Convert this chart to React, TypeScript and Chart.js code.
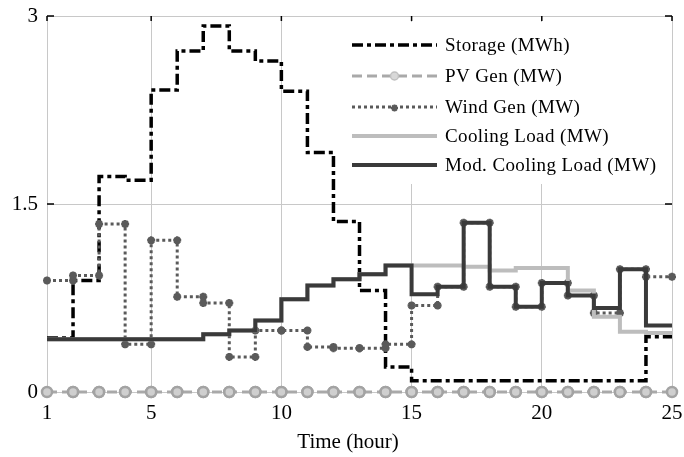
import React, { useEffect, useRef } from "react";
import { Chart, registerables } from "chart.js";

Chart.register(...registerables);

// ---------- data ----------
const hours = [1, 2, 3, 4, 5, 6, 7, 8, 9, 10, 11, 12, 13, 14, 15, 16, 17, 18, 19, 20, 21, 22, 23, 24];
const storageMWh = [0.43, 0.89, 1.72, 1.69, 2.41, 2.72, 2.92, 2.72, 2.64, 2.4, 1.91, 1.36, 0.81, 0.2, 0.09, 0.09, 0.09, 0.09, 0.09, 0.09, 0.09, 0.09, 0.09, 0.44];
const pvGenMW = [0, 0, 0, 0, 0, 0, 0, 0, 0, 0, 0, 0, 0, 0, 0, 0, 0, 0, 0, 0, 0, 0, 0, 0];
const windGenMW = [0.89, 0.93, 1.34, 0.38, 1.21, 0.76, 0.71, 0.28, 0.49, 0.49, 0.36, 0.35, 0.35, 0.38, 0.69, 0.84, 1.35, 0.84, 0.68, 0.87, 0.77, 0.63, 0.98, 0.92];
const coolingLoadMW = [0.42, 0.42, 0.42, 0.42, 0.42, 0.42, 0.46, 0.49, 0.57, 0.74, 0.85, 0.9, 0.94, 1.01, 1.01, 1.01, 1.0, 0.97, 0.99, 0.99, 0.81, 0.6, 0.48, 0.47];
const modCoolingLoadMW = [0.42, 0.42, 0.42, 0.42, 0.42, 0.42, 0.46, 0.49, 0.57, 0.74, 0.85, 0.9, 0.94, 1.01, 0.78, 0.84, 1.35, 0.84, 0.68, 0.87, 0.77, 0.67, 0.98, 0.53];
const xTickValues = [1, 5, 10, 15, 20, 25];
const yTickValues = [0, 1.5, 3];
const seriesLabels = ["Storage (MWh)", "PV Gen (MW)", "Wind Gen (MW)", "Cooling Load (MW)", "Mod. Cooling Load (MW)"];
const xAxisTitle = "Time (hour)";

// ---------- helpers ----------
function stairs(values: number[]) {
  const pts: { x: number; y: number }[] = [];
  hours.forEach((h, i) => {
    pts.push({ x: h, y: values[i] });
    pts.push({ x: h + 1, y: values[i] });
  });
  return pts;
}

const FONT = "'Liberation Serif', 'Times New Roman', serif";

const styles = [
  { color: "#000000", width: 3.5, dash: [11, 4, 4, 4], marker: "none" },
  { color: "#a9a9a9", width: 3, dash: [10, 5], marker: "circle" },
  { color: "#5a5a5a", width: 3, dash: [3, 3], marker: "star" },
  { color: "#bdbdbd", width: 4, dash: [] as number[], marker: "none" },
  { color: "#3a3a3a", width: 4, dash: [] as number[], marker: "none" },
];

function drawStar(ctx: CanvasRenderingContext2D, x: number, y: number, r: number) {
  ctx.beginPath();
  ctx.moveTo(x - r, y); ctx.lineTo(x + r, y);
  ctx.moveTo(x, y - r); ctx.lineTo(x, y + r);
  const d = r * 0.707;
  ctx.moveTo(x - d, y - d); ctx.lineTo(x + d, y + d);
  ctx.moveTo(x - d, y + d); ctx.lineTo(x + d, y - d);
  ctx.stroke();
}

const overlayPlugin = {
  id: "overlay",
  beforeDatasetsDraw(chart: any) {
    const { ctx, chartArea: a, scales } = chart;
    const x = scales.x, y = scales.y;
    ctx.save();
    ctx.strokeStyle = "#000";
    ctx.lineWidth = 1.5;
    ctx.beginPath();
    xTickValues.forEach((v) => {
      const px = x.getPixelForValue(v);
      ctx.moveTo(px, a.top); ctx.lineTo(px, a.top + 5);
      ctx.moveTo(px, a.bottom); ctx.lineTo(px, a.bottom - 5);
    });
    yTickValues.forEach((v) => {
      const py = y.getPixelForValue(v);
      ctx.moveTo(a.left, py); ctx.lineTo(a.left + 7, py);
      ctx.moveTo(a.right, py); ctx.lineTo(a.right - 7, py);
    });
    ctx.stroke();
    ctx.restore();
  },
  afterDatasetsDraw(chart: any) {
    const { ctx, chartArea: a } = chart;
    ctx.save();
    const boxL = a.right - 327;
    const boxT = a.top + 6;
    ctx.fillStyle = "#ffffff";
    ctx.fillRect(boxL, boxT, a.right - boxL - 1, 162);
    const lineX0 = boxL + 7;
    const lineX1 = boxL + 92;
    const textX = boxL + 100;
    const rows = [45, 76, 107, 136, 165];
    seriesLabels.forEach((label, i) => {
      const s = styles[i];
      const yy = rows[i];
      ctx.strokeStyle = s.color;
      ctx.lineWidth = s.width;
      ctx.setLineDash(s.dash);
      ctx.lineCap = "butt";
      ctx.beginPath();
      ctx.moveTo(lineX0, yy);
      ctx.lineTo(lineX1, yy);
      ctx.stroke();
      ctx.setLineDash([]);
      const mx = (lineX0 + lineX1) / 2;
      if (s.marker === "circle") {
        ctx.fillStyle = "#d8d8d8";
        ctx.strokeStyle = "#c0c0c0";
        ctx.lineWidth = 1.5;
        ctx.beginPath();
        ctx.arc(mx, yy, 4, 0, Math.PI * 2);
        ctx.fill();
        ctx.stroke();
      } else if (s.marker === "star") {
        ctx.strokeStyle = s.color;
        ctx.lineWidth = 2;
        drawStar(ctx, mx, yy + 1, 3.5);
      }
      ctx.fillStyle = "#000";
      ctx.font = `19px ${FONT}`;
      (ctx as any).letterSpacing = "0.4px";
      ctx.textAlign = "left";
      ctx.textBaseline = "middle";
      ctx.fillText(label, textX, yy + 1);
      (ctx as any).letterSpacing = "0px";
    });
    ctx.restore();
  },
  afterDraw(chart: any) {
    const { ctx } = chart;
    ctx.save();
    ctx.fillStyle = "#000";
    ctx.font = `21px ${FONT}`;
    ctx.textAlign = "center";
    ctx.textBaseline = "middle";
    ctx.fillText(xAxisTitle, 348, 442);
    ctx.restore();
  },
};

export default function App() {
  const canvasRef = useRef<HTMLCanvasElement | null>(null);

  useEffect(() => {
    if (!canvasRef.current) return;
    const seriesData = [storageMWh, pvGenMW, windGenMW, coolingLoadMW, modCoolingLoadMW];
    const orders = [5, 4, 3, 2, 1];
    const datasets = seriesData.map((vals, i) => {
      const s = styles[i];
      const base: any = {
        label: seriesLabels[i],
        data: stairs(vals),
        borderColor: s.color,
        borderWidth: s.width,
        borderDash: s.dash,
        borderCapStyle: "butt",
        borderJoinStyle: "miter",
        fill: false,
        tension: 0,
        pointRadius: 0,
        clip: false,
        order: orders[i],
      };
      if (s.marker === "circle") {
        base.pointStyle = "circle";
        base.pointRadius = 5;
        base.pointBackgroundColor = "#cfcfcf";
        base.pointBorderColor = "#a3a3a3";
        base.pointBorderWidth = 2.5;
      } else if (s.marker === "star") {
        base.pointStyle = "star";
        base.pointRadius = 4;
        base.pointBorderColor = s.color;
        base.pointBackgroundColor = s.color;
        base.pointBorderWidth = 2.5;
      }
      return base;
    });

    const chart = new Chart(canvasRef.current, {
      type: "line",
      data: { datasets },
      options: {
        animation: false,
        responsive: true,
        maintainAspectRatio: false,
        events: [],
        layout: { padding: { top: 16, right: 12, left: 0, bottom: 0 } },
        plugins: { legend: { display: false }, tooltip: { enabled: false } },
        scales: {
          x: {
            type: "linear",
            min: 1,
            max: 25,
            afterBuildTicks: (scale: any) => {
              scale.ticks = xTickValues.map((v) => ({ value: v }));
            },
            afterFit: (scale: any) => {
              scale.height = 65;
              scale.paddingLeft = 0;
              scale.paddingRight = 0;
            },
            grid: { color: "#c8c8c8", lineWidth: 1, drawTicks: false },
            border: { display: true, color: "#c8c8c8" },
            ticks: {
              padding: 9,
              color: "#000",
              font: { family: FONT, size: 21 },
              maxRotation: 0,
              autoSkip: false,
              callback: (v: any) => String(v),
            },
            title: { display: false },
          },
          y: {
            type: "linear",
            min: 0,
            max: 3,
            afterBuildTicks: (scale: any) => {
              scale.ticks = yTickValues.map((v) => ({ value: v }));
            },
            afterFit: (scale: any) => {
              scale.width = 47;
              scale.paddingTop = 0;
              scale.paddingBottom = 0;
            },
            grid: { color: "#c8c8c8", lineWidth: 1, drawTicks: false },
            border: { display: true, color: "#c8c8c8" },
            ticks: {
              padding: 9,
              color: "#000",
              font: { family: FONT, size: 21 },
              callback: (v: any) => String(v),
            },
          },
        },
      },
      plugins: [overlayPlugin],
    });
    return () => chart.destroy();
  }, []);

  return (
    <div style={{ position: "absolute", left: 0, top: 0, width: 684, height: 457, background: "#fff" }}>
      <canvas ref={canvasRef} />
    </div>
  );
}
